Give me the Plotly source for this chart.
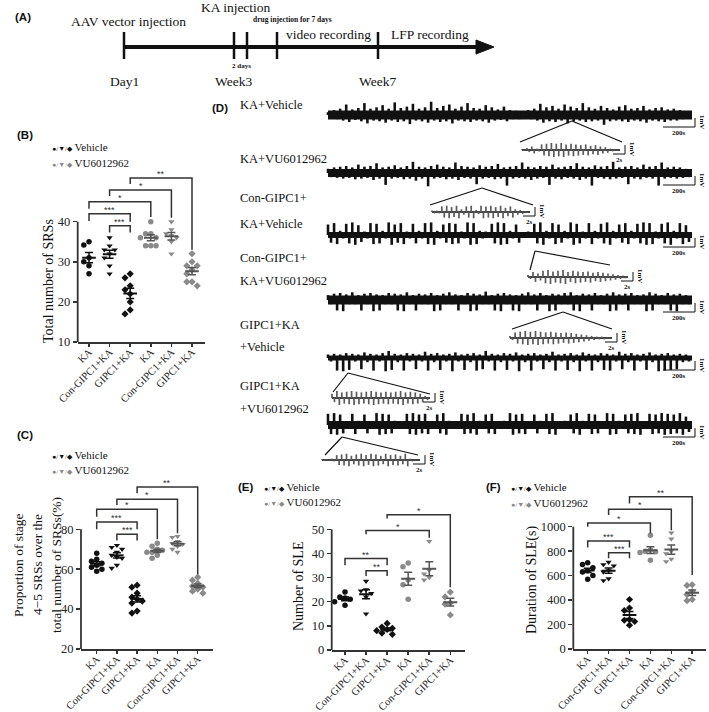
import numpy as np
import plotly.graph_objects as go

W, H = 709, 712
SERIF = "Liberation Serif"
SANS = "Liberation Sans"
VEH = "#111111"
VU = "#8a8a8a"
MEAN_VEH = "#111111"
MEAN_VU = "#555555"

# ---------------- data ----------------
categories = ["KA", "Con-GIPC1+KA", "GIPC1+KA", "KA", "Con-GIPC1+KA", "GIPC1+KA"]
treatments = ["Vehicle", "Vehicle", "Vehicle", "VU6012962", "VU6012962", "VU6012962"]
marker_symbols = ["circle", "triangle-down", "diamond", "circle", "triangle-down", "diamond"]

total_srs = [
    [35, 34.2, 31, 30, 29, 27],
    [36, 34, 33, 33, 32, 31, 29, 27],
    [27, 26, 24, 23, 22, 20, 18, 17],
    [40, 37, 37, 36, 36, 34, 34, 34],
    [40, 38, 37, 36.5, 36, 35, 32],
    [32, 30, 29, 29, 28, 27, 25, 25, 24],
]
stage45_pct = [
    [68, 65, 64, 63, 62, 61, 60, 59],
    [72, 71, 70, 68.5, 67, 66, 65.5, 62, 60.5],
    [52, 51, 48, 46, 45, 44, 43, 39, 38],
    [73, 71.5, 70, 69.5, 68.5, 68.5, 67, 65.5],
    [76.5, 76, 74, 73, 72.5, 71.5, 70, 68.5],
    [56, 54.5, 53, 51.5, 51, 50, 49, 48],
]
sle_number = [
    [24, 22, 21.5, 21, 20, 18.5],
    [28.5, 25, 24.5, 23.5, 22, 15],
    [11, 9.5, 9, 8.5, 8, 7, 6.5],
    [36, 34.5, 29, 27, 21],
    [45, 33, 31.5, 30, 29],
    [24, 22, 19.5, 19, 14.5],
]
sle_duration = [
    [705, 690, 665, 640, 630, 600, 570],
    [710, 690, 680, 640, 630, 575, 560],
    [405, 335, 315, 240, 235, 225, 195],
    [930, 810, 800, 795, 790, 725],
    [950, 900, 800, 780, 735, 715],
    [525, 520, 470, 445, 405, 395],
]

# comparison brackets: (group i, group j, bracket top, left leg end, right leg end, label)
brackets_B = [(0, 2, 42, 40.2, 40, "***"), (1, 2, 39, 37.3, 37.3, "***"),
              (0, 3, 45, 43.2, 41.2, "*"), (1, 4, 47.9, 46.4, 41, "*"),
              (2, 5, 50.9, 49.4, 33, "**")]
brackets_C = [(0, 2, 83.7, 80, 80, "***"), (1, 2, 77.5, 74.4, 74.4, "***"),
              (0, 3, 90, 86.3, 75, "*"), (1, 4, 95.1, 92.2, 78, "*"),
              (2, 5, 101.2, 98.1, 57.5, "**")]
brackets_E = [(0, 2, 37.9, 35.1, 35.1, "**"), (1, 2, 32.8, 30.7, 30.7, "**"),
              (1, 4, 49.5, 48, 46.5, "*"), (2, 5, 56, 54.5, 26, "*")]
brackets_F = [(0, 3, 1030, 1000, 946, "*"), (0, 2, 884, 830, 830, "***"),
              (1, 2, 786, 742, 742, "***"), (1, 4, 1142, 1095, 970, "*"),
              (2, 5, 1245, 1190, 605, "**")]

ticks_B = [10, 20, 30, 40]
ticks_C = [20, 40, 60, 80]
ticks_E = [0, 10, 20, 30, 40, 50]
ticks_F = [0, 200, 400, 600, 800, 1000]

# Panel A timeline text
timeline_top = ["AAV vector injection", "KA injection", "video recording", "LFP recording"]
timeline_bottom = ["Day1", "Week3", "Week7"]

# Panel D: LFP trace labels and coarse envelope readings (mV above / below baseline)
trace_labels = [["KA+Vehicle"], ["KA+VU6012962"], ["Con-GIPC1+", "KA+Vehicle"],
                ["Con-GIPC1+", "KA+VU6012962"], ["GIPC1+KA", "+Vehicle"], ["GIPC1+KA", "+VU6012962"]]
eeg_up = [
    [0.4,0.7,0.9,1.5,0.8,1.0,1.7,0.9,1.1,1.4,0.9,1.8,1.0,1.2,1.6,0.9,1.1,1.9,1.0,1.3,1.5,0.9,1.2,1.7,1.0,0.9,1.4,1.1,0.8,1.2,0.7,0.6,0.5,0.7,0.9,1.6,1.1,1.3,0.9,1.5,1.2,1.0,1.7,1.1,0.9,1.3,1.0,0.8,1.2,1.4,0.9,1.0,1.3,0.8,1.0,1.1,0.8,0.9,0.7,0.4],
    [0.6,0.8,0.9,1.0,0.8,1.2,0.9,1.0,1.4,0.8,0.9,1.1,0.8,1.0,1.6,0.9,0.8,1.0,1.2,0.9,0.8,1.5,1.0,0.9,0.8,1.1,0.9,1.0,1.3,0.8,0.9,1.0,1.5,0.9,0.8,1.0,0.9,1.2,0.8,0.9,1.0,1.4,0.9,0.8,1.1,0.9,1.0,1.6,0.8,0.9,1.0,0.8,1.2,0.9,1.0,1.5,0.8,0.9,0.8,0.6],
    [1.5,1.7,0.6,1.6,1.8,1.4,0.5,1.7,1.6,0.6,1.8,1.5,1.7,0.5,1.6,0.6,1.7,1.8,0.6,1.5,1.7,1.6,0.5,1.8,1.7,0.6,0.5,1.6,1.8,1.7,0.6,1.5,0.4,0.5,1.6,1.8,0.6,1.7,1.5,0.6,1.8,1.6,0.5,1.7,0.6,1.6,1.8,0.6,1.5,1.7,0.6,1.6,1.8,1.7,0.5,1.6,1.8,0.6,1.7,1.4],
    [0.7,0.9,1.0,0.8,1.1,0.7,0.9,1.0,0.8,0.7,1.0,0.9,0.8,1.1,0.7,0.9,0.8,1.0,0.7,0.9,1.1,0.8,0.7,1.0,0.9,0.8,1.2,0.7,0.9,1.0,0.8,0.7,0.9,1.1,0.8,1.0,0.7,0.9,0.8,1.0,1.1,0.7,0.9,0.8,1.0,0.7,0.9,1.1,0.8,0.9,1.0,0.7,0.8,1.1,0.9,0.7,1.0,0.8,0.9,0.7],
    [0.5,0.6,0.5,0.7,0.6,0.5,0.8,0.6,0.5,0.7,1.0,0.6,0.5,0.7,0.6,0.5,0.9,0.6,0.7,0.5,0.6,0.8,0.5,0.6,0.7,0.5,1.0,0.6,0.5,0.7,0.6,0.8,0.5,0.6,0.7,0.5,0.6,0.9,0.5,0.6,0.7,0.5,0.8,0.6,0.5,0.7,0.6,0.5,0.9,0.6,0.7,0.5,0.6,0.8,0.5,0.6,0.7,0.5,0.6,0.5],
    [1.6,1.7,1.5,0.5,1.6,0.6,1.5,0.5,1.7,1.6,1.5,0.6,0.5,1.6,1.7,1.5,1.6,0.5,1.5,1.7,0.6,0.5,1.6,1.5,1.7,0.6,1.5,1.6,0.5,0.6,1.7,1.5,1.6,0.5,1.5,0.6,1.6,1.7,0.5,0.6,1.5,1.7,0.6,1.6,1.5,0.5,1.7,1.6,0.6,1.5,1.6,1.7,0.5,1.6,1.5,1.7,1.6,1.5,1.7,1.2],
]
eeg_down = [
    [0.4,0.6,0.8,1.0,0.7,0.9,1.2,0.8,0.9,1.1,0.8,1.0,0.9,1.3,0.8,0.9,1.1,0.8,1.0,0.9,1.2,0.8,0.9,1.0,0.8,0.9,1.1,0.8,0.7,0.9,0.6,0.6,0.5,0.6,0.8,1.1,0.9,1.0,0.8,1.2,0.9,0.8,1.0,0.9,0.8,1.4,0.9,0.8,0.9,1.0,0.8,0.9,1.1,0.8,0.9,1.0,0.8,0.8,0.6,0.4],
    [0.6,0.7,0.8,0.7,0.9,0.8,0.7,1.0,0.8,1.7,0.8,0.7,0.9,0.8,1.1,0.8,1.9,0.8,0.7,0.9,0.8,1.0,0.7,0.8,1.6,0.8,0.7,0.9,0.8,1.8,0.8,0.7,0.8,1.0,0.8,0.7,1.7,0.8,0.9,0.7,0.8,1.0,0.8,1.8,0.7,0.8,0.9,0.8,0.7,1.6,0.8,0.9,0.7,0.8,1.8,0.8,0.7,0.8,0.7,0.6],
    [1.1,1.3,0.5,1.2,1.4,1.0,0.5,1.3,1.2,0.5,1.4,1.1,1.3,0.5,1.2,0.5,1.3,1.4,0.5,1.1,1.3,1.2,0.5,1.4,1.3,0.5,0.4,1.2,1.4,1.3,0.5,1.1,0.4,0.4,1.2,1.4,0.5,1.3,1.1,0.5,1.4,1.2,0.5,1.3,0.5,1.2,1.4,0.5,1.1,1.3,0.5,1.2,1.4,1.3,0.5,1.2,1.4,0.5,1.3,1.0],
    [0.6,1.5,1.6,0.6,0.6,1.5,0.6,1.6,1.5,0.6,0.6,1.5,1.6,0.6,1.5,0.6,0.6,1.6,1.5,0.6,0.6,1.5,0.6,1.6,1.5,0.6,0.6,1.5,1.6,0.6,1.5,1.6,0.6,0.6,1.5,0.6,1.6,1.5,0.6,0.6,1.5,1.6,0.6,1.5,0.6,0.6,1.6,1.5,0.6,1.5,0.6,0.6,1.6,1.5,0.6,0.6,1.5,1.6,0.6,0.6],
    [0.5,1.8,1.9,1.7,0.5,1.6,0.6,1.8,0.5,1.9,1.7,0.6,1.8,0.5,1.6,0.5,1.8,0.6,1.7,0.5,1.9,0.5,1.7,0.6,1.8,1.6,0.5,1.8,0.6,1.7,0.5,1.9,0.6,1.8,0.5,1.6,0.6,1.8,0.5,1.7,0.6,1.9,0.5,1.8,0.6,1.7,1.8,0.5,1.6,0.6,1.8,0.5,1.7,0.6,1.9,1.8,1.7,1.6,0.6,0.5],
    [1.3,1.4,1.2,0.5,1.3,0.5,1.2,0.5,1.4,1.3,1.2,0.5,0.5,1.3,1.4,1.2,1.3,0.5,1.2,1.4,0.5,0.5,1.3,1.2,1.4,0.5,1.2,1.3,0.5,0.5,1.4,1.2,1.3,0.5,1.2,0.5,1.3,1.4,0.5,0.5,1.2,1.4,0.5,1.3,1.2,0.5,1.4,1.3,0.5,1.2,1.3,1.4,0.5,1.3,1.2,1.4,1.3,1.2,1.4,1.0],
]
inset_amp = [
    [0.1,0.3,0.5,0.2,0.8,0.9,1.0,0.9,1.0,0.8,0.9,0.8,0.7,0.8,0.6,0.7,0.5,0.4,0.2,0.1],
    [0.2,0.2,0.8,0.9,0.7,0.9,0.4,0.8,0.9,0.3,0.9,0.8,0.9,0.7,0.9,0.6,0.8,0.4,0.3,0.1],
    [0.3,0.7,0.5,0.9,1.0,0.8,0.9,1.0,0.7,0.9,0.8,0.7,0.8,0.6,0.7,0.6,0.5,0.4,0.3,0.2],
    [0.3,0.8,0.9,1.0,0.9,1.0,0.9,0.8,0.9,0.8,0.7,0.8,0.7,0.6,0.5,0.4,0.3,0.2,0.2,0.1],
    [0.6,1.0,0.8,0.9,1.0,0.9,0.8,0.9,1.0,0.9,0.8,0.9,0.8,0.9,1.0,0.8,0.9,0.8,0.6,0.3],
    [0.1,0.1,0.2,0.7,0.8,0.9,0.6,0.8,0.9,0.7,0.9,0.8,0.6,0.9,0.7,0.8,0.6,0.9,0.2,0.1],
]

# ---------------- layout geometry (pixels) ----------------
panels = [
    dict(data=total_srs, br=brackets_B, ticks=ticks_B, left=77.7, right=205, bottom=342, top=170,
         y0=10, ppu=4.01, cat0=89, dcat=20.6),
    dict(data=stage45_pct, br=brackets_C, ticks=ticks_C, left=81, right=213, bottom=649, top=480,
         y0=20, ppu=1.995, cat0=96.7, dcat=20.2),
    dict(data=sle_number, br=brackets_E, ticks=ticks_E, left=331.7, right=465, bottom=650, top=508,
         y0=0, ppu=2.414, cat0=345, dcat=21.06),
    dict(data=sle_duration, br=brackets_F, ticks=ticks_F, left=573.3, right=706, bottom=649, top=490,
         y0=0, ppu=0.1223, cat0=587.7, dcat=20.9),
]

fig = go.Figure()
axes = {}
shapes = []
annotations = []


def axn(k, t):
    return f"{t}axis" if k == 1 else f"{t}axis{k}"


def rf(k, t):
    return t if k == 1 else f"{t}{k}"


def swarm(vals, ppu, dcat, sp=5.2):
    order = np.argsort(-np.asarray(vals))
    placed = []
    offs = np.zeros(len(vals))
    for idx in order:
        ypx = vals[idx] * ppu
        chosen = 0.0
        for kk in [0, -1, 1, -2, 2, -3, 3]:
            xo = kk * sp
            if all((xo - px) ** 2 + (ypx - py) ** 2 >= (sp * 0.95) ** 2 for py, px in placed):
                chosen = xo
                break
        placed.append((ypx, chosen))
        offs[idx] = chosen / dcat
    return offs


for k, p in enumerate(panels, start=1):
    xr = [-(p["cat0"] - p["left"]) / p["dcat"], (p["right"] - p["cat0"]) / p["dcat"]]
    ytop = p["y0"] + (p["bottom"] - p["top"]) / p["ppu"]
    axes[axn(k, "x")] = dict(
        domain=[p["left"] / W, p["right"] / W], range=xr, anchor=rf(k, "y"), automargin=False,
        showline=True, linecolor="#333", linewidth=1.8, showgrid=False, zeroline=False,
        tickmode="array", tickvals=list(range(6)), ticktext=categories, tickangle=-45,
        ticks="outside", ticklen=3, tickwidth=1.5, tickcolor="#333", ticklabelstandoff=-5,
        tickfont=dict(family=SERIF, size=10.5, color="#222"), fixedrange=True)
    axes[axn(k, "y")] = dict(
        domain=[1 - p["bottom"] / H, 1 - p["top"] / H], range=[p["y0"], ytop], anchor=rf(k, "x"),
        automargin=False,
        showline=False, showgrid=False, zeroline=False, tickmode="array", tickvals=p["ticks"],
        ticks="outside", ticklen=4, tickwidth=1.5, tickcolor="#333",
        tickfont=dict(family=SERIF, size=12.5, color="#222"), fixedrange=True)
    shapes.append(dict(type="line", xref=f"{rf(k, 'x')} domain", yref=rf(k, "y"), x0=0, x1=0,
                       y0=p["ticks"][0], y1=p["ticks"][-1], line=dict(color="#333", width=1.8)))
    for g in range(6):
        vals = np.asarray(p["data"][g], float)
        offs = swarm(vals, p["ppu"], p["dcat"])
        col = VEH if g < 3 else VU
        fig.add_trace(go.Scatter(
            x=g + offs, y=vals, mode="markers", xaxis=rf(k, "x"), yaxis=rf(k, "y"),
            marker=dict(symbol=marker_symbols[g], size=5.5, color=col, line=dict(width=0)),
            showlegend=False, hoverinfo="skip", name=f"{categories[g]} {treatments[g]}"))
        m = vals.mean()
        s = vals.std(ddof=1) / np.sqrt(len(vals))
        lc = MEAN_VEH if g < 3 else MEAN_VU
        fig.add_trace(go.Scatter(x=[g - 0.33, g + 0.33], y=[m, m], mode="lines",
                                 xaxis=rf(k, "x"), yaxis=rf(k, "y"), line=dict(color=lc, width=2),
                                 showlegend=False, hoverinfo="skip"))
        fig.add_trace(go.Scatter(x=[g], y=[m], mode="markers", xaxis=rf(k, "x"), yaxis=rf(k, "y"),
                                 marker=dict(size=2, color="rgba(0,0,0,0)"),
                                 error_y=dict(type="data", array=[s], visible=True, color=lc,
                                              thickness=1.5, width=4),
                                 showlegend=False, hoverinfo="skip"))
    for (i, j, top, le, re, lab) in p["br"]:
        fig.add_trace(go.Scatter(x=[i, i, j, j], y=[le, top, top, re], mode="lines",
                                 xaxis=rf(k, "x"), yaxis=rf(k, "y"),
                                 line=dict(color="#333", width=1.5), showlegend=False, hoverinfo="skip"))
        annotations.append(dict(x=(i + j) / 2, y=top, xref=rf(k, "x"), yref=rf(k, "y"), text=lab,
                                showarrow=False, yanchor="bottom", yshift=-3,
                                font=dict(family=SANS, size=9, color="#333")))

# overlay pixel axis (k=5)
axes["xaxis5"] = dict(domain=[0, 1], range=[0, W], visible=False, fixedrange=True, anchor="y5",
                      automargin=False)
axes["yaxis5"] = dict(domain=[0, 1], range=[H, 0], visible=False, fixedrange=True, anchor="x5",
                      automargin=False)


def txt(x, y, s, size=12, family=SERIF, xa="center", ya="middle", angle=0, color="#111", bold=False):
    if bold:
        s = f"<b>{s}</b>"
    annotations.append(dict(x=x, y=y, xref="x5", yref="y5", text=s, showarrow=False, xanchor=xa,
                            yanchor=ya, textangle=angle, font=dict(family=family, size=size, color=color)))


def pline(x0, y0, x1, y1, w=1.0, c="#111"):
    shapes.append(dict(type="line", xref="x5", yref="y5", x0=x0, y0=y0, x1=x1, y1=y1,
                       line=dict(color=c, width=w)))


# ---- panel letters
for lab, (x, y) in zip(["(A)", "(B)", "(C)", "(D)", "(E)", "(F)"],
                       [(13, 17), (15, 135), (15, 435), (210, 108), (236, 487), (484, 487)]):
    txt(x, y, lab, size=11.5, family=SANS, xa="left", bold=True)

# ---- panel A timeline
pline(124, 47, 480, 47, w=4)
shapes.append(dict(type="path", xref="x5", yref="y5", path="M 476 40 L 494 47 L 476 54 Z",
                   fillcolor="#111", line=dict(color="#111", width=1)))
for xm in [124, 234, 247, 277, 378]:
    pline(xm, 32, xm, 59, w=2.5)
for s, x, y in zip(timeline_top, [128, 236, 328, 430], [21, 7, 34, 34]):
    txt(x, y, s, size=13.5)
txt(292, 19, "drug injection for 7 days", size=7.5, bold=True)
txt(241, 66, "2 days", size=7, bold=True)
for s, x in zip(timeline_bottom, [124, 233, 377]):
    txt(x, 81, s, size=13.5)

# ---- legends
legend_pos = [(50, 147, 163), (50, 455, 470), (262, 487, 502), (509, 487, 503)]
for (x, y1, y2) in legend_pos:
    txt(x, y1, f"<span style='font-size:7px;color:{VEH}'>●/▼/◆</span> Vehicle", size=11, xa="left")
    txt(x, y2, f"<span style='font-size:7px;color:{VU}'>●/▼/◆</span> VU6012962", size=11, xa="left")

# ---- y-axis titles
txt(48, 281, "Total number of SRSs", size=14, angle=-90)
for s, x in zip(["Proportion of stage", "4−5 SRSs over the", "total number of SRSs(%)"], [18, 37, 56]):
    txt(x, 565, s, size=13.5, angle=-90)
txt(298, 587, "Number of SLE", size=14, angle=-90)
txt(532, 580, "Duration of SLE(s)", size=14, angle=-90)

# ---- panel D traces
row_yc = [115, 173, 235, 300, 358, 425]
label_y = [[105], [159], [198, 224], [258, 281], [325, 347], [386, 409]]
core_w = [9, 8, 6, 9, 5, 8]
PPM = 7.0
TX0, TX1 = 328, 692


def strokes(x0, x1, yc, up, dn, ppm):
    """vertical excursions: upward at each sample, downward half a sample later"""
    n = len(up)
    st = (x1 - x0) / n
    xs, ys = [], []
    for i in range(n):
        xa = x0 + i * st
        xs += [xa, xa, None]
        ys += [yc, yc - up[i] * ppm, None]
        xb = xa + st / 2
        xs += [xb, xb, None]
        ys += [yc, yc + dn[i] * ppm, None]
    return xs, ys


for r in range(6):
    yc = row_yc[r]
    for s, y in zip(trace_labels[r], label_y[r]):
        txt(238, y, s, size=12.5, xa="left")
    fig.add_trace(go.Scatter(x=[TX0, TX1], y=[yc, yc], mode="lines", xaxis="x5", yaxis="y5",
                             line=dict(color="#111", width=core_w[r]), showlegend=False,
                             hoverinfo="skip"))
    xs, ys = strokes(TX0, TX1, yc, eeg_up[r], eeg_down[r], PPM)
    fig.add_trace(go.Scatter(x=xs, y=ys, mode="lines", xaxis="x5", yaxis="y5",
                             line=dict(color="#111", width=2.6), showlegend=False, hoverinfo="skip"))
    # 200 s / 1 mV scale bar
    pline(695, yc + 3, 695, yc + 12, w=1)
    pline(663, yc + 12, 695, yc + 12, w=1)
    txt(679, yc + 18, "200s", size=7, bold=True)
    txt(702, yc + 7, "1mV", size=7, bold=True, angle=90)

insets = [
    dict(anchor=(572, 121), L=(520, 142), R=(622, 142), x0=522, x1=620, yc=150),
    dict(anchor=(482, 188), L=(430, 205), R=(533, 205), x0=432, x1=530, yc=212),
    dict(anchor=(535, 251), L=(530, 270), R=(610, 265), x0=528, x1=628, yc=277),
    dict(anchor=(563, 312), L=(512, 329), R=(612, 329), x0=510, x1=612, yc=338),
    dict(anchor=(348, 373), L=(333, 392), R=(430, 394), x0=332, x1=430, yc=398),
    dict(anchor=(342, 437), L=(325, 455), R=(418, 455), x0=322, x1=420, yc=460),
]
for r, ins in enumerate(insets):
    ax_, ay_ = ins["anchor"]
    pline(ax_, ay_, ins["L"][0], ins["L"][1], w=1.2)
    pline(ax_, ay_, ins["R"][0], ins["R"][1], w=1.2)
    amp = inset_amp[r]
    fig.add_trace(go.Scatter(x=[ins["x0"], ins["x1"]], y=[ins["yc"], ins["yc"]], mode="lines",
                             xaxis="x5", yaxis="y5", line=dict(color="#444", width=2),
                             showlegend=False, hoverinfo="skip"))
    xs, ys = strokes(ins["x0"], ins["x1"], ins["yc"], amp, amp, 7.0)
    fig.add_trace(go.Scatter(x=xs, y=ys, mode="lines", xaxis="x5", yaxis="y5",
                             line=dict(color="#5a5a5a", width=1.7), showlegend=False, hoverinfo="skip"))
    xb = ins["x1"] + 5
    pline(xb, ins["yc"] - 5, xb, ins["yc"] + 4, w=1)
    pline(xb - 12, ins["yc"] + 4, xb, ins["yc"] + 4, w=1)
    txt(xb - 6, ins["yc"] + 10, "2s", size=7, bold=True)
    txt(xb + 7, ins["yc"] - 1, "1mV", size=7, bold=True, angle=90)

fig.update_layout(
    width=W, height=H, margin=dict(l=0, r=0, t=0, b=0, pad=0, autoexpand=False), autosize=False,
    paper_bgcolor="white", plot_bgcolor="rgba(0,0,0,0)", showlegend=False,
    shapes=shapes, annotations=annotations, **axes)

fig.write_html("out.html", config={"displayModeBar": False, "staticPlot": True},
               post_script="document.body.style.margin='0px';")
